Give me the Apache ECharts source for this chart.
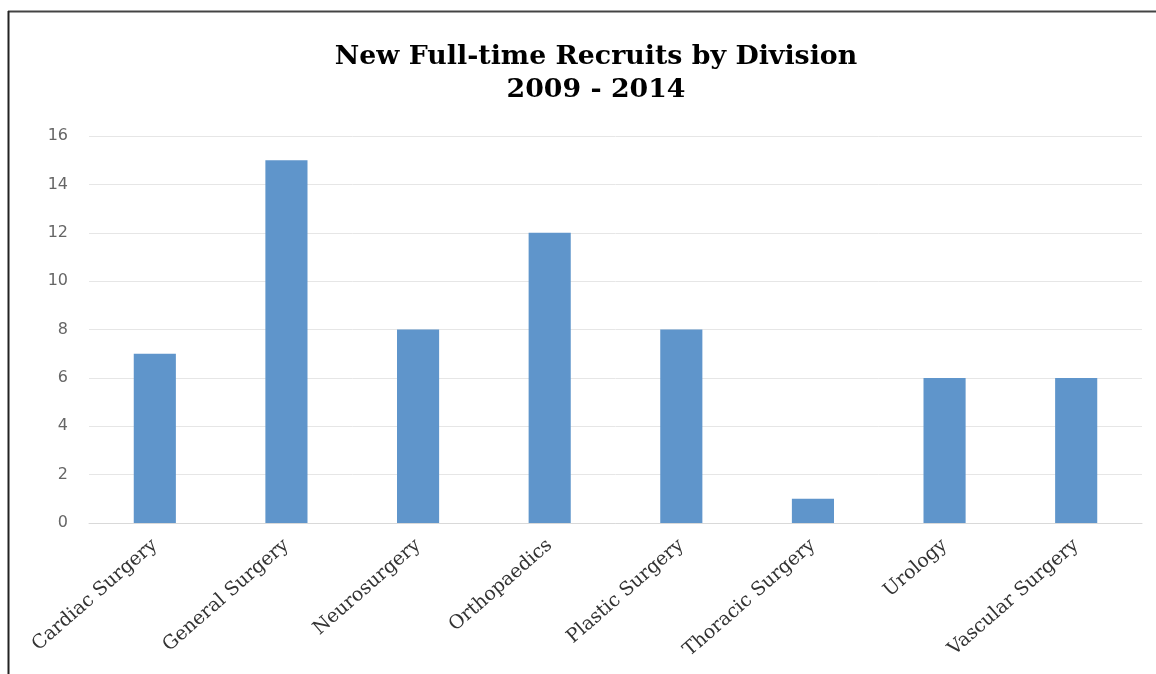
<!DOCTYPE html>
<html><head><meta charset="utf-8">
<script src="https://cdn.jsdelivr.net/npm/echarts@6/dist/echarts.min.js"></script>
<style>html,body{margin:0;padding:0;background:#fff}#c{width:1156px;height:674px}</style>
</head><body><div id="c"></div>
<script>
const categories = ["Cardiac Surgery","General Surgery","Neurosurgery","Orthopaedics","Plastic Surgery","Thoracic Surgery","Urology","Vascular Surgery"];
const recruits = [7,15,8,12,8,1,6,6];
const titleLines = ["New Full-time Recruits by Division","2009 - 2014"];

const chart = echarts.init(document.getElementById('c'), null, {renderer:'canvas'});
chart.setOption({
  animation:false,
  backgroundColor:'#fff',
  title:{
    text: titleLines.join('\n'),
    left: 591, top: 36, textAlign:'center',
    textStyle:{fontFamily:'DejaVu Serif', fontWeight:'bold', fontSize:26.8, color:'#000', lineHeight:33}
  },
  graphic:[
    {type:'line', shape:{x1:8,y1:11.5,x2:1156,y2:11.5}, style:{stroke:'#444',lineWidth:2}},
    {type:'line', shape:{x1:8.5,y1:11,x2:8.5,y2:674}, style:{stroke:'#222',lineWidth:2}}
  ],
  grid:{left:89, right:14, top:136, bottom:151, containLabel:false},
  xAxis:{
    type:'category', data:categories,
    axisLine:{lineStyle:{color:'#d9d9d9'}},
    axisTick:{show:false},
    axisLabel:{rotate:41, interval:0, margin:20, color:'#333', fontFamily:'DejaVu Serif', fontSize:19}
  },
  yAxis:{
    type:'value', min:0, max:16, interval:2,
    axisLine:{show:false}, axisTick:{show:false},
    splitLine:{lineStyle:{color:'#e6e6e6', width:1}},
    axisLabel:{color:'#666', fontFamily:'DejaVu Sans', fontSize:16, margin:21}
  },
  series:[{type:'bar', data:recruits, barWidth:'32%', itemStyle:{color:'#5f95cb'}}]
});
</script></body></html>
